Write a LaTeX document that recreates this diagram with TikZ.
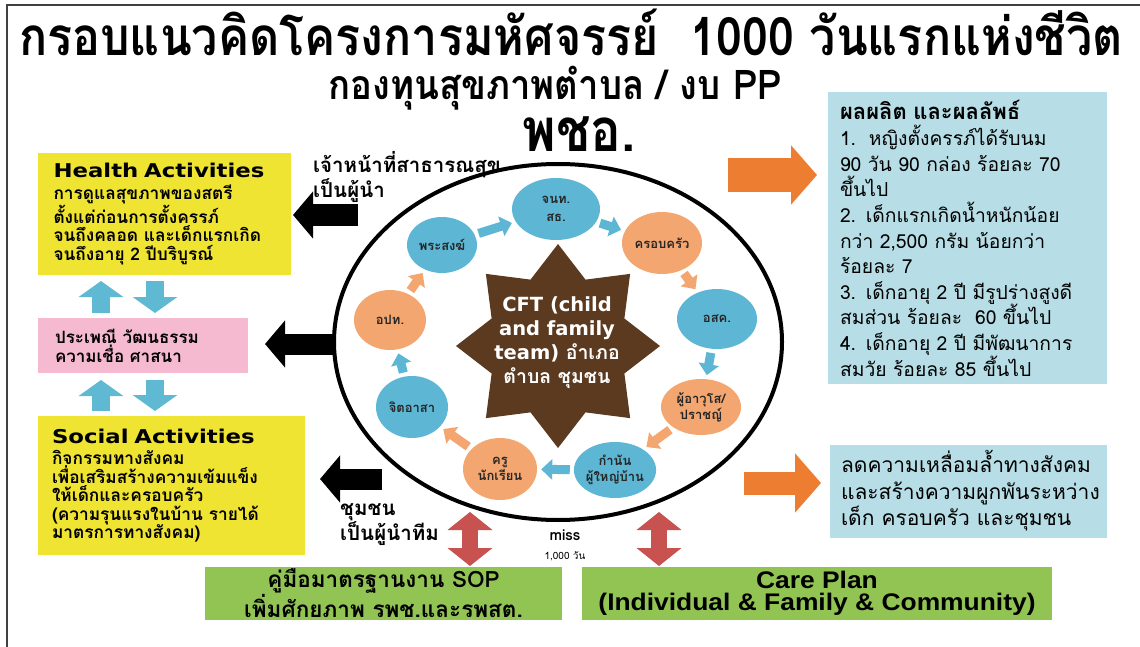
\documentclass[tikz,border=0pt]{standalone}
\usepackage{fontspec}
\setmainfont{Loma}[Script=Thai]
\newfontfamily\thcond{Loma}[Script=Thai, FakeStretch=0.85]
\newfontfamily\thtitle{Loma}[Script=Thai, FakeStretch=0.88]
\newfontfamily\thsub{Loma}[Script=Thai, FakeStretch=0.89]
\newfontfamily\en{DejaVu Sans}
\newfontfamily\enwide{DejaVu Sans}[FakeStretch=1.2]
\newfontfamily\arialw{Liberation Sans}[FakeStretch=1.1]
\usetikzlibrary{shapes.geometric,arrows.meta}
\definecolor{yel}{RGB}{240,228,50}
\definecolor{pinkc}{RGB}{245,186,208}
\definecolor{larrow}{RGB}{95,185,210}
\definecolor{nblue}{RGB}{92,182,212}
\definecolor{norange}{RGB}{243,166,112}
\definecolor{starbrown}{RGB}{92,58,32}
\definecolor{oarrow}{RGB}{237,125,49}
\definecolor{boxblue}{RGB}{183,222,230}
\definecolor{greenc}{RGB}{146,196,84}
\definecolor{redarr}{RGB}{200,82,80}
\begin{document}
\begin{tikzpicture}[x=1pt,y=-1pt,
  every node/.style={inner sep=0pt},
  ybox/.style={fill=yel, align=left, text width=#1},
  ringnode/.style={ellipse, align=center, font=\fontsize{13}{16}\selectfont\bfseries, text=black!85},
  bnode/.style={ringnode, fill=nblue},
  onode/.style={ringnode, fill=norange},
  blkarrow/.style={line width=21pt, black, -{Triangle[width=46pt,length=20pt]}},
  updown/.style={line width=18pt, larrow, -{Triangle[width=44pt,length=16pt]}},
  oarr/.style={line width=#1, oarrow, -{Triangle[width=58pt,length=26pt]}},
  barr/.style={line width=9pt, nblue, -{Triangle[width=20pt,length=11pt]}, shorten <=4pt, shorten >=4pt},
  orarr/.style={line width=9pt, norange, -{Triangle[width=20pt,length=11pt]}, shorten <=4pt, shorten >=4pt},
  redd/.style={line width=16pt, redarr, {Triangle[width=44pt,length=18pt]}-{Triangle[width=44pt,length=18pt]}},
  lbl/.style={align=left, font=\fontsize{20.5}{22}\selectfont\bfseries},
  gbox/.style={fill=greenc, align=center}
]
\useasboundingbox (0,0) rectangle (1140,647);
\fill[white] (0,0) rectangle (1140,647);
% frame
\coordinate (fA) at (7,647);
\coordinate (fB) at (7,5);
\coordinate (fC) at (1140,5);
\draw[line width=1.5pt, black!75] (fA) -- (fB) -- (fC);

% titles
\node[anchor=base, font=\thtitle\fontsize{53}{54}\selectfont\bfseries] (title) at (571,56) {กรอบแนวคิดโครงการมหัศจรรย์~~1000 วันแรกแห่งชีวิต};
\node[anchor=base, font=\thsub\fontsize{41}{42}\selectfont\bfseries] (sub) at (555,100) {กองทุนสุขภาพตำบล / งบ PP};
\node[anchor=base, font=\thcond\fontsize{60}{62}\selectfont\bfseries] (pcho) at (579,152) {พชอ.};

% left boxes
\node[ybox=222pt, minimum width=253pt, minimum height=122pt, font=\fontsize{17.3}{18.5}\selectfont\bfseries] (health) at (164.5,214)
 {{\enwide\fontsize{19}{21}\selectfont Health Activities}\\[3pt]การดูแลสุขภาพของสตรี\\ตั้งแต่ก่อนการตั้งครรภ์\\จนถึงคลอด และเด็กแรกเกิด\\จนถึงอายุ 2 ปีบริบูรณ์};
\node[fill=pinkc, align=left, text width=176pt, minimum width=210pt, minimum height=55pt, font=\fontsize{17}{19}\selectfont\bfseries] (culture) at (143,345.5)
 {ประเพณี วัฒนธรรม\\ความเชื่อ ศาสนา};
\node[ybox=239pt, minimum width=267pt, minimum height=139pt, font=\fontsize{17.3}{18.5}\selectfont\bfseries] (social) at (171.5,485.5)
 {{\enwide\fontsize{19}{21}\selectfont Social Activities}\\[3pt]กิจกรรมทางสังคม\\เพื่อเสริมสร้างความเข้มแข็ง\\ให้เด็กและครอบครัว\\(ความรุนแรงในบ้าน รายได้\\มาตรการทางสังคม)};

% blue up/down arrows
\coordinate (u1a) at (101,313); \coordinate (u1b) at (101,281);
\coordinate (d1a) at (155,281); \coordinate (d1b) at (155,313);
\coordinate (u2a) at (101,411); \coordinate (u2b) at (101,380);
\coordinate (d2a) at (155,380); \coordinate (d2b) at (155,411);
\draw[updown] (u1a) -- (u1b);
\draw[updown] (d1a) -- (d1b);
\draw[updown] (u2a) -- (u2b);
\draw[updown] (d2a) -- (d2b);

% black arrows
\coordinate (k1t) at (358,215); \coordinate (k1h) at (293,215);
\coordinate (k2t) at (334,344); \coordinate (k2h) at (265,344);
\coordinate (k3t) at (382,479); \coordinate (k3h) at (320,479);
\draw[blkarrow] (k1t) -- (k1h);
\draw[blkarrow] (k2t) -- (k2h);
\draw[blkarrow] (k3t) -- (k3h);
\node[lbl, anchor=north west] (lead1) at (313,151) {เจ้าหน้าที่สาธารณสุข\\เป็นผู้นำ};
\node[lbl, anchor=north west] (lead2) at (340,503) {ชุมชน\\เป็นผู้นำทีม};

% big ring
\node[ellipse, draw, line width=4pt, minimum width=448pt, minimum height=356pt] (ring) at (558,342) {};

% star
\node[star, star points=8, star point ratio=1.42, minimum size=204pt, fill=starbrown] (cft) at (558,346) {};
\node[align=center, text=white, font=\fontsize{19.5}{24}\selectfont\bfseries] (cfttext) at (557,343)
 {{\en CFT (child}\\{\en and family}\\{\en team)} อำเภอ\\ตำบล ชุมชน};

% ring nodes
\node[bnode, minimum width=88pt, minimum height=62pt] (jnt) at (556,209) {จนท.\\[2pt]สธ.};
\node[bnode, minimum width=70pt, minimum height=56pt] (pra) at (442,245) {พระสงฆ์};
\node[onode, minimum width=80pt, minimum height=62pt] (kro) at (662,243) {ครอบครัว};
\node[bnode, minimum width=80pt, minimum height=60pt] (osk) at (717,319) {อสค.};
\node[onode, minimum width=80pt, minimum height=56pt] (puu) at (701,407) {ผู้อาวุโส/\\ปราชญ์};
\node[bnode, minimum width=76pt, minimum height=56pt] (kam) at (615,470) {กำนัน\\ผู้ใหญ่บ้าน};
\node[onode, minimum width=74pt, minimum height=62pt] (kru) at (500,469) {ครู\\นักเรียน};
\node[bnode, minimum width=72pt, minimum height=62pt] (jit) at (412,407) {จิตอาสา};
\node[onode, minimum width=72pt, minimum height=60pt] (opt) at (390,320) {อปท.};

\draw[barr] (pra) -- (jnt);
\draw[barr] (jnt) -- (kro);
\draw[orarr] (kro) -- (osk);
\draw[barr] (osk) -- (puu);
\draw[orarr] (puu) -- (kam);
\draw[barr] (kam) -- (kru);
\draw[orarr] (kru) -- (jit);
\draw[barr] (jit) -- (opt);
\draw[orarr] (opt) -- (pra);

% right side
\coordinate (o1t) at (728,175); \coordinate (o1h) at (817,175);
\draw[oarr=34pt] (o1t) -- (o1h);
\node[fill=boxblue, align=left, text width=255pt, minimum width=279pt, minimum height=292pt, font=\fontsize{19.3}{25.6}\selectfont] (outc) at (967.5,238)
 {{\bfseries\fontsize{22}{25.6}\selectfont ผลผลิต และผลลัพธ์}\\[1pt]1.~~หญิงตั้งครรภ์ได้รับนม\\90 วัน 90 กล่อง ร้อยละ 70\\ขึ้นไป\\2. เด็กแรกเกิดน้ำหนักน้อย\\กว่า 2,500 กรัม น้อยกว่า\\ร้อยละ 7\\3. เด็กอายุ 2 ปี มีรูปร่างสูงดี\\สมส่วน ร้อยละ~~60 ขึ้นไป\\4. เด็กอายุ 2 ปี มีพัฒนาการ\\สมวัย ร้อยละ 85 ขึ้นไป};
\coordinate (o2t) at (744,483); \coordinate (o2h) at (821,483);
\draw[oarr=23pt] (o2t) -- (o2h);
\node[fill=boxblue, align=left, text width=255pt, minimum width=277pt, minimum height=93pt, font=\fontsize{21}{26.5}\selectfont] (ineq) at (968.5,491)
 {ลดความเหลื่อมล้ำทางสังคม\\และสร้างความผูกพันระหว่าง\\เด็ก ครอบครัว และชุมชน};

% bottom
\node[gbox, minimum width=357pt, minimum height=53pt, font=\fontsize{22.5}{22}\selectfont\bfseries] (sop) at (383.5,593.5) {คู่มือมาตรฐานงาน SOP\\เพิ่มศักยภาพ รพช.และรพสต.};
\node[gbox, minimum width=470pt, minimum height=53pt, font=\arialw\fontsize{24}{22}\selectfont\bfseries] (care) at (817,593.5) {Care Plan\\(Individual \& Family \& Community)};
\coordinate (r1top) at (470,512); \coordinate (r1bot) at (470,566);
\coordinate (r2top) at (659,512); \coordinate (r2bot) at (659,566);
\draw[redd] (r1top) -- (r1bot);
\draw[redd] (r2top) -- (r2bot);
\node[font=\fontsize{15}{17}\selectfont\bfseries] (miss) at (565,535) {miss};
\node[font=\fontsize{10}{12}\selectfont] (days) at (565,556) {1,000 วัน};
\end{tikzpicture}
\end{document}
